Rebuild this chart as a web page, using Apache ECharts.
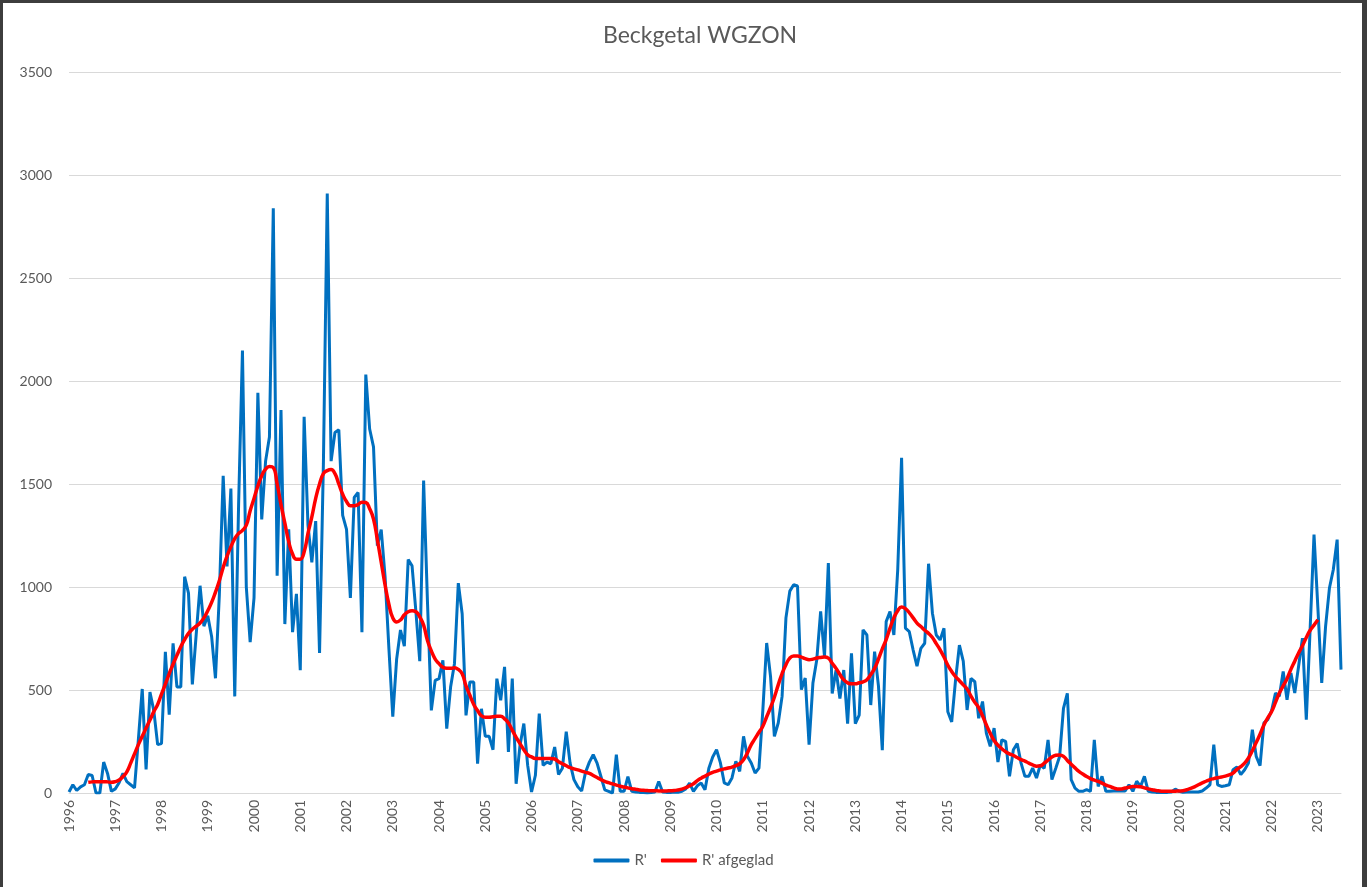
<!DOCTYPE html>
<html>
<head>
<meta charset="utf-8">
<title>Beckgetal WGZON</title>
<script src="https://cdn.jsdelivr.net/npm/echarts@6/dist/echarts.min.js"></script>
<style>
  html, body { margin: 0; padding: 0; background: #fff; }
  #chart { position: absolute; left: 0; top: 0; width: 1367px; height: 887px; }
  #frame { position: absolute; left: 0; top: 0; width: 1367px; height: 887px; box-sizing: border-box;
    border-top: 3px solid #3d3d3d; border-left: 3px solid #3d3d3d; border-right: 5px solid #3d3d3d; pointer-events: none; }
</style>
</head>
<body>
<div id="chart"></div>
<div id="frame"></div>
<script>
// maandwaarden vanaf januari 1996
var startYear = 1996

var rValues = [
  5, 40, 12, 30, 40, 90, 85, 0, 0, 150, 95, 8,                              // 1996
  20, 50, 95, 55, 40, 25, 260, 505, 115, 490, 400, 235,                     // 1997
  240, 685, 380, 726, 515, 515, 1050, 970, 527, 770, 1006, 810,             // 1998
  860, 760, 557, 960, 1540, 1100, 1478, 469, 1400, 2148, 1000, 732,         // 1999
  947, 1943, 1328, 1611, 1728, 2838, 1055, 1859, 820, 1280, 781, 967,       // 2000
  596, 1826, 1300, 1120, 1320, 680, 1600, 2910, 1611, 1750, 1763, 1348,     // 2001
  1280, 947, 1435, 1459, 781, 2031, 1767, 1680, 1201, 1279, 1050, 700,      // 2002
  371, 650, 791, 713, 1133, 1103, 880, 640, 1517, 928, 401, 547,            // 2003
  555, 644, 312, 514, 628, 1019, 870, 377, 539, 539, 142, 409,              // 2004
  275, 275, 210, 555, 450, 612, 199, 555, 45, 231, 337, 134,                // 2005
  5, 86, 385, 134, 150, 142, 223, 90, 120, 298, 145, 65,                    // 2006
  30, 10, 100, 150, 186, 145, 80, 15, 8, 0, 186, 8,                         // 2007
  8, 80, 8, 5, 3, 2, 0, 2, 5, 56, 5, 3,                                     // 2008
  2, 5, 3, 8, 20, 48, 8, 35, 49, 16, 120, 175,                              // 2009
  210, 146, 49, 40, 73, 154, 105, 275, 178, 146, 97, 121,                   // 2010
  400, 728, 566, 275, 340, 469, 850, 980, 1011, 1005, 502, 558,             // 2011
  235, 534, 647, 882, 663, 1116, 483, 597, 459, 597, 337, 678,              // 2012
  337, 378, 792, 767, 427, 686, 520, 208, 832, 881, 767, 1083,              // 2013
  1627, 800, 783, 694, 616, 702, 727, 1113, 873, 767, 743, 800,             // 2014
  394, 345, 548, 718, 640, 403, 556, 540, 363, 444, 290, 226,               // 2015
  315, 150, 258, 250, 81, 210, 240, 145, 81, 81, 121, 73,                   // 2016
  137, 120, 258, 65, 120, 177, 411, 484, 65, 24, 8, 8,                      // 2017
  16, 8, 258, 32, 81, 8, 8, 10, 10, 10, 10, 40,                             // 2018
  8, 57, 32, 81, 8, 5, 3, 3, 3, 3, 5, 19,                                   // 2019
  8, 3, 5, 5, 5, 5, 10, 24, 40, 235, 40, 32,                                // 2020
  35, 40, 113, 126, 89, 113, 146, 307, 178, 133, 340, 356,                  // 2021
  400, 485, 469, 590, 453, 582, 485, 615, 752, 356, 800, 1254,              // 2022
  900, 534, 809, 995, 1084, 1230, 599                                       // 2023
]

// afgevlakte reeks begint in juni 1996 (index 5)
var smoothStart = 5
var smoothValues = [
  52, 54, 55, 55, 55, 54, 52,                                               // 1996
  55, 63, 80, 103, 145, 190, 235, 275, 315, 354, 395, 430,                  // 1997
  480, 528, 580, 625, 668, 710, 745, 775, 795, 810, 825, 850,               // 1998
  885, 925, 975, 1030, 1095, 1150, 1195, 1235, 1260, 1275, 1300, 1370,      // 1999
  1430, 1490, 1540, 1572, 1585, 1580, 1500, 1400, 1310, 1220, 1160, 1135,   // 2000
  1135, 1170, 1260, 1340, 1430, 1500, 1550, 1565, 1570, 1550, 1500, 1450,   // 2001
  1415, 1395, 1395, 1400, 1412, 1410, 1380, 1330, 1230, 1120, 1010, 915,    // 2002
  850, 830, 840, 865, 880, 885, 880, 855, 815, 740, 690, 650,               // 2003
  628, 610, 605, 605, 608, 600, 579, 520, 475, 430, 400, 375,               // 2004
  368, 368, 370, 372, 372, 360, 340, 305, 270, 240, 210, 185,               // 2005
  175, 168, 167, 167, 167, 168, 165, 152, 142, 132, 123, 117,               // 2006
  112, 106, 100, 95, 85, 75, 65, 56, 50, 44, 38, 33,                        // 2007
  29, 25, 21, 18, 15, 13, 12, 11, 11, 10, 10, 10,                           // 2008
  11, 12, 15, 19, 26, 35, 45, 60, 72, 82, 92, 100,                          // 2009
  106, 112, 117, 121, 126, 133, 142, 162, 195, 235, 265, 295,               // 2010
  324, 370, 415, 465, 525, 580, 623, 655, 665, 665, 660, 652,               // 2011
  647, 650, 655, 658, 660, 655, 630, 605, 575, 550, 535, 530,               // 2012
  530, 535, 540, 550, 575, 605, 650, 700, 745, 800, 850, 885,               // 2013
  903, 895, 875, 850, 825, 808, 790, 775, 755, 725, 695, 660,               // 2014
  620, 590, 565, 545, 525, 505, 470, 440, 415, 375, 330, 290,               // 2015
  255, 232, 215, 200, 190, 182, 172, 162, 155, 145, 137, 130,               // 2016
  132, 145, 160, 175, 183, 185, 178, 158, 140, 122, 105, 92,                // 2017
  80, 70, 62, 56, 48, 38, 32, 25, 20, 20, 24, 28,                           // 2018
  31, 32, 30, 25, 20, 16, 12, 10, 8, 8, 8, 9,                               // 2019
  10, 11, 16, 22, 30, 40, 49, 57, 65, 70, 74, 78,                           // 2020
  82, 88, 97, 115, 128, 145, 170, 205, 245, 285, 330, 365,                  // 2021
  396, 440, 485, 520, 555, 600, 640, 680, 715, 755, 790, 815,               // 2022
  841                                                                       // 2023
]

var yTicks = { min: 0, max: 3500, interval: 500 }

var months = rValues.map(function(v, i) {
  var m = i % 12 + 1
  return (startYear + Math.floor(i / 12)) + '-' + (m < 10 ? '0' + m : m)
})
var smoothed = months.map(function(v, i) {
  var j = i - smoothStart
  return j >= 0 && j < smoothValues.length ? smoothValues[j] : null
})

var textColor = '#595959'
var font = 'Lato, "Open Sans", sans-serif'

var chart = echarts.init(document.getElementById('chart'))
chart.setOption({
  animation: false,
  title: {
    text: 'Beckgetal WGZON',
    left: 598,
    top: 19,
    textStyle: { fontFamily: font, fontSize: 23, fontWeight: 'normal', color: textColor }
  },
  legend: {
    bottom: 14,
    left: 'center',
    icon: 'roundRect',
    itemWidth: 36,
    itemHeight: 4,
    itemGap: 14,
    textStyle: { fontFamily: font, fontSize: 15, color: textColor },
    data: ["R'", "R' afgeglad"]
  },
  grid: { left: 69, right: 26, top: 72, bottom: 94 },
  xAxis: {
    type: 'category',
    data: months,
    boundaryGap: false,
    axisLine: { lineStyle: { color: '#d9d9d9' } },
    axisTick: { show: false },
    axisLabel: {
      interval: function(i) { return i % 12 === 0 },
      formatter: function(v) { return v.slice(0, 4) },
      rotate: 90,
      margin: 7,
      fontFamily: font,
      fontSize: 14,
      color: textColor
    }
  },
  yAxis: {
    type: 'value',
    min: yTicks.min,
    max: yTicks.max,
    interval: yTicks.interval,
    axisLine: { show: false },
    axisTick: { show: false },
    axisLabel: {
      margin: 17,
      fontFamily: font,
      fontSize: 14,
      color: textColor,
      formatter: function(v) { return String(v) }
    },
    splitLine: { lineStyle: { color: '#d9d9d9' } }
  },
  series: [
    {
      name: "R'",
      type: 'line',
      data: rValues,
      symbol: 'none',
      lineStyle: { color: '#0070C0', width: 3 },
      itemStyle: { color: '#0070C0' }
    },
    {
      name: "R' afgeglad",
      type: 'line',
      data: smoothed,
      symbol: 'none',
      smooth: true,
      lineStyle: { color: '#FF0000', width: 3.5 },
      itemStyle: { color: '#FF0000' }
    }
  ]
})
</script>
</body>
</html>
